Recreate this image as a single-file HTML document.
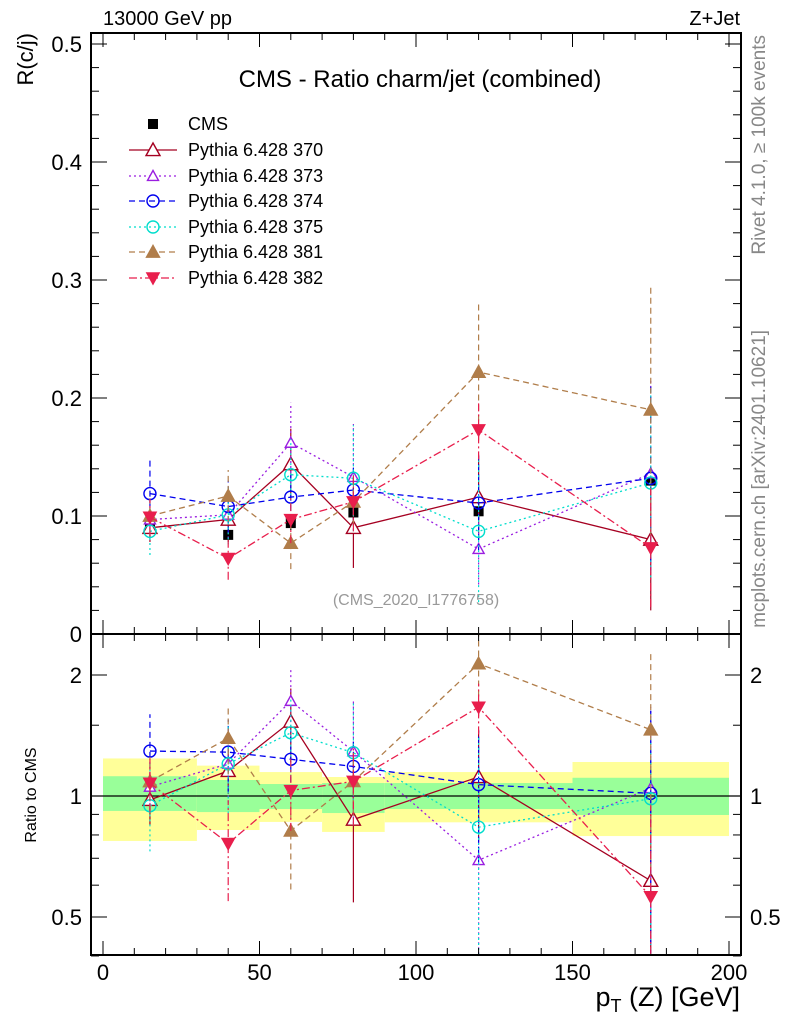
<!DOCTYPE html>
<html><head><meta charset="utf-8"><style>
body{margin:0;background:#fff}
svg{display:block;font-family:"Liberation Sans",sans-serif}
</style></head><body>
<svg id="c" width="786" height="1024" viewBox="0 0 786 1024"></svg>
<script>
const xCenters=[15,40,60,80,120,175];
const binEdges=[0,30,50,70,90,150,200];
const cmsValues=[0.092,0.084,0.094,0.103,0.104,0.130];
const cmsErr=[0.006,0.006,0.006,0.007,0.007,0.010];
const bandTotUp=[1.24,1.19,1.147,1.115,1.147,1.215];
const bandTotDn=[0.773,0.823,0.862,0.814,0.86,0.795];
const bandStatUp=[1.12,1.096,1.071,1.077,1.077,1.11];
const bandStatDn=[0.918,0.912,0.928,0.907,0.928,0.897];
const s370=[0.090,0.097,0.144,0.090,0.116,0.080];
const e370=[0.012,0.012,0.03,0.034,0.036,0.06];
const s373=[0.097,0.101,0.162,0.133,0.072,0.136];
const e373=[0.012,0.02,0.034,0.045,0.03,0.08];
const s374=[0.119,0.108,0.116,0.122,0.111,0.132];
const e374=[0.028,0.022,0.02,0.02,0.04,0.08];
const s375=[0.087,0.101,0.135,0.132,0.087,0.128];
const e375=[0.02,0.025,0.03,0.045,0.06,0.08];
const s381=[0.100,0.117,0.077,0.112,0.222,0.190];
const e381=[0.015,0.022,0.022,0.02,0.058,0.105];
const s382=[0.099,0.064,0.097,0.112,0.173,0.073];
const e382=[0.015,0.018,0.02,0.025,0.025,0.05];
const yTicks=["0.1","0.2","0.3","0.4","0.5"];
const xTickLabels=["0","50","100","150","200"];

const NS="http://www.w3.org/2000/svg";
const svg=document.getElementById('c');
function el(tag,attrs,parent){const e=document.createElementNS(NS,tag);for(const k in attrs)e.setAttribute(k,attrs[k]);(parent||svg).appendChild(e);return e;}
const L=91,R=741,T=33,M=634,B=955;
const X=v=>103+v*(729-103)/200;
const Y=v=>634-v*1180;
const RY=r=>796-121*Math.log2(r);
const clipM=v=>Math.max(T,Math.min(M,v));
const clipR=v=>Math.max(M,Math.min(B,v));

const bands=el('g',{});


for(let i=0;i<6;i++){
  const x0=X(binEdges[i]),x1=X(binEdges[i+1]);
  el('rect',{x:x0,y:RY(bandTotUp[i]),width:x1-x0,height:RY(bandTotDn[i])-RY(bandTotUp[i]),fill:'#ffff99'},bands);
  el('rect',{x:x0,y:RY(bandStatUp[i]),width:x1-x0,height:RY(bandStatDn[i])-RY(bandStatUp[i]),fill:'#99ff99'},bands);
}
el('line',{x1:L,x2:R,y1:RY(1),y2:RY(1),stroke:'#000','stroke-width':1.2});

const series=[
 {name:'370',v:s370,e:e370,c:'#a50021',dash:'',m:'tri',fill:false,s:7},
 {name:'373',v:s373,e:e373,c:'#9a1ee0',dash:'2,3',m:'tri',fill:false,s:5.5},
 {name:'374',v:s374,e:e374,c:'#0000ee',dash:'6,4',m:'circ',fill:false,s:6},
 {name:'375',v:s375,e:e375,c:'#00ddcc',dash:'2,3',m:'circ',fill:false,s:6},
 {name:'381',v:s381,e:e381,c:'#b07d4a',dash:'6,4',m:'tri',fill:true,s:6.5},
 {name:'382',v:s382,e:e382,c:'#e81e4c',dash:'8,3,2,3',m:'dtri',fill:true,s:6.5},
];
function marker(g,m,x,y,c,fill,s){
  s=s||6;
  if(m==='tri')el('polygon',{points:`${x},${y-s} ${x-s},${y+s*0.8} ${x+s},${y+s*0.8}`,fill:fill?c:'#fff',stroke:c,'stroke-width':1.4},g);
  else if(m==='dtri')el('polygon',{points:`${x},${y+s} ${x-s},${y-s*0.8} ${x+s},${y-s*0.8}`,fill:c,stroke:c,'stroke-width':1},g);
  else if(m==='circ')el('circle',{cx:x,cy:y,r:s,fill:fill?c:'none',stroke:c,'stroke-width':1.4},g);
  else el('rect',{x:x-5,y:y-5,width:10,height:10,fill:c},g);
}
const cg=el('g',{});


for(let i=0;i<6;i++){
  el('line',{x1:X(xCenters[i]),x2:X(xCenters[i]),y1:Y(cmsValues[i]-cmsErr[i]),y2:Y(cmsValues[i]+cmsErr[i]),stroke:'#000','stroke-width':1.2},cg);
  marker(cg,'sq',X(xCenters[i]),Y(cmsValues[i]),'#000');
}
series.forEach(s=>{
  const g=el('g',{});
  
  
  const pm=[],pr=[];
  for(let i=0;i<6;i++){
    const x=X(xCenters[i]);
    pm.push(x+','+Y(s.v[i]));
    pr.push(x+','+RY(s.v[i]/cmsValues[i]));
    el('line',{x1:x,x2:x,y1:clipM(Y(s.v[i]-s.e[i])),y2:clipM(Y(s.v[i]+s.e[i])),stroke:s.c,'stroke-width':1.2,'stroke-dasharray':s.dash},g);
    const rl=Math.max(0.01,(s.v[i]-s.e[i])/cmsValues[i]),ru=(s.v[i]+s.e[i])/cmsValues[i];
    el('line',{x1:x,x2:x,y1:clipR(RY(rl)),y2:clipR(RY(ru)),stroke:s.c,'stroke-width':1.2,'stroke-dasharray':s.dash},g);
  }
  el('polyline',{points:pm.join(' '),fill:'none',stroke:s.c,'stroke-width':1.3,'stroke-dasharray':s.dash},g);
  el('polyline',{points:pr.join(' '),fill:'none',stroke:s.c,'stroke-width':1.3,'stroke-dasharray':s.dash},g);
  for(let i=0;i<6;i++){
    const x=X(xCenters[i]);
    marker(g,s.m,x,Y(s.v[i]),s.c,s.fill,s.s);
    marker(g,s.m,x,RY(s.v[i]/cmsValues[i]),s.c,s.fill,s.s);
  }
});
el('rect',{x:L,y:T,width:R-L,height:M-T,fill:'none',stroke:'#000','stroke-width':2});
el('rect',{x:L,y:M,width:R-L,height:B-M,fill:'none',stroke:'#000','stroke-width':2});
for(let v=0;v<=200;v+=10){
  const x=X(v),len=v%50===0?14:7;
  [[T,1],[M,1],[M,-1],[B,-1]].forEach(([y,d])=>el('line',{x1:x,x2:x,y1:y,y2:y+d*len,stroke:'#000','stroke-width':1}));
}
xTickLabels.forEach((t,i)=>{const e=el('text',{x:X(i*50),y:980,'font-size':22,'text-anchor':'middle'});e.textContent=t;
});
for(let k=1;k<=25;k++){const y=Y(k*0.02),len=k%5===0?16:8;
 el('line',{x1:L,x2:L+len,y1:y,y2:y,stroke:'#000'});el('line',{x1:R,x2:R-len,y1:y,y2:y,stroke:'#000'});}
yTicks.forEach((t,i)=>{const e=el('text',{x:82,y:Y((i+1)*0.1)+8,'font-size':22,'text-anchor':'end'});e.textContent=t;
});
{const e=el('text',{x:82,y:642,'font-size':22,'text-anchor':'end'});e.textContent='0';}
[0.4,0.5,0.6,0.7,0.8,0.9,1,1.5,2].forEach(r=>{const y=RY(r),len=(r===0.5||r===1||r===2)?16:8;
 el('line',{x1:L,x2:L+len,y1:y,y2:y,stroke:'#000'});el('line',{x1:R,x2:R-len,y1:y,y2:y,stroke:'#000'});});
[['2',2],['1',1],['0.5',0.5]].forEach(([t,r])=>{
 let e=el('text',{x:82,y:RY(r)+8,'font-size':22,'text-anchor':'end'});e.textContent=t;
 e=el('text',{x:750,y:RY(r)+8,'font-size':22});e.textContent=t;});
function txt(s,a,name){const e=el('text',a);e.textContent=s;return e;}
txt('13000 GeV pp',{x:103,y:25,'font-size':20},'energy-label');
txt('Z+Jet',{x:740,y:25,'font-size':20,'text-anchor':'end'},'process-label');
txt('CMS - Ratio charm/jet (combined)',{x:420,y:87,'font-size':24,'text-anchor':'middle'},'chart-title');
txt('R(c/j)',{x:0,y:0,'font-size':22,'text-anchor':'end',transform:'translate(33,33) rotate(-90)'},'y-axis-title');
txt('Ratio to CMS',{x:0,y:0,'font-size':16,'text-anchor':'middle',transform:'translate(36,795) rotate(-90)'},'ratio-axis-title');
txt('(CMS_2020_I1776758)',{x:416,y:605,'font-size':16,fill:'#999','text-anchor':'middle'},'analysis-id');
txt('Rivet 4.1.0, ≥ 100k events',{x:0,y:0,'font-size':19,fill:'#888','text-anchor':'end',transform:'translate(765,35) rotate(-90)'},'rivet-label');
txt('mcplots.cern.ch [arXiv:2401.10621]',{x:0,y:0,'font-size':19,fill:'#888','text-anchor':'end',transform:'translate(765,330) rotate(-90)'},'mcplots-label');
const xt=txt('',{x:740,y:1006,'font-size':27,'text-anchor':'end'},'x-axis-title');
xt.innerHTML='p<tspan font-size="18" dy="6">T</tspan><tspan dy="-6"> (Z) [GeV]</tspan>';
const lg=el('g',{});
const ly=[124,150,176,201,227,252,278];
marker(lg,'sq',153,ly[0],'#000');
txt('CMS',{x:188,y:ly[0]+6,'font-size':18},'legend-entry-cms');
series.forEach((s,i)=>{const y=ly[i+1];
 el('line',{x1:129,x2:177,y1:y,y2:y,stroke:s.c,'stroke-width':1.3,'stroke-dasharray':s.dash},lg);
 marker(lg,s.m,153,y,s.c,s.fill,s.s);
 txt('Pythia 6.428 '+s.name,{x:188,y:y+6,'font-size':18},'legend-entry-'+s.name);});
</script>
</body></html>
